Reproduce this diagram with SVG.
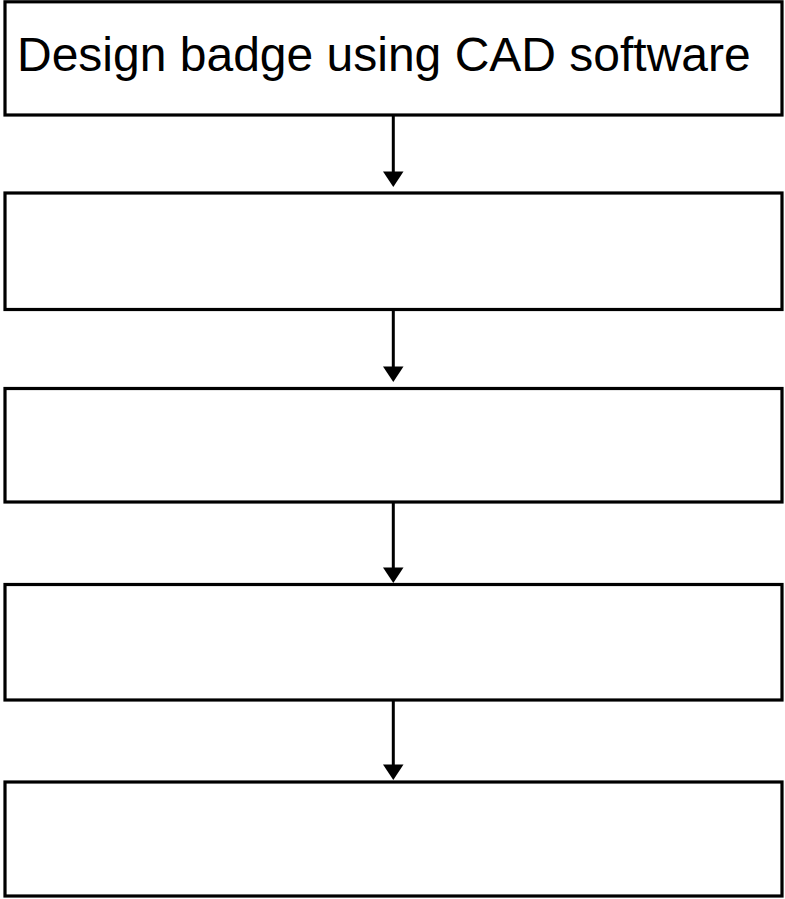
<svg xmlns="http://www.w3.org/2000/svg" width="785" height="899" viewBox="0 0 785 899">
<style>
.box{fill:#fff;stroke:#000;stroke-width:3.2}
.lbl{font-family:"Liberation Sans",Arial,sans-serif;font-size:48px;fill:#000}
.conn line{stroke:#000;stroke-width:3}
.conn polygon{fill:#000}
</style>
<rect width="785" height="899" fill="#fff"/>
<g id="node1"><rect class="box" x="5" y="1.8" width="777" height="113.2"/><text class="lbl" x="17" y="70.5">Design badge using CAD software</text></g>
<g id="node2"><rect class="box" x="5" y="193" width="777" height="116.5"/></g>
<g id="node3"><rect class="box" x="5" y="388.5" width="777" height="113.5"/></g>
<g id="node4"><rect class="box" x="5" y="584.5" width="777" height="115.5"/></g>
<g id="node5"><rect class="box" x="5" y="782" width="777" height="114"/></g>
<g id="connectors" class="conn">
<line x1="393.3" y1="115" x2="393.3" y2="173"/><polygon points="383,171.5 403.5,171.5 393.3,187"/>
<line x1="393.3" y1="309.5" x2="393.3" y2="368"/><polygon points="383,366.5 403.5,366.5 393.3,382"/>
<line x1="393.3" y1="502" x2="393.3" y2="569"/><polygon points="383,567.5 403.5,567.5 393.3,583"/>
<line x1="393.3" y1="700" x2="393.3" y2="766"/><polygon points="383,764.5 403.5,764.5 393.3,780"/>
</g>
</svg>
